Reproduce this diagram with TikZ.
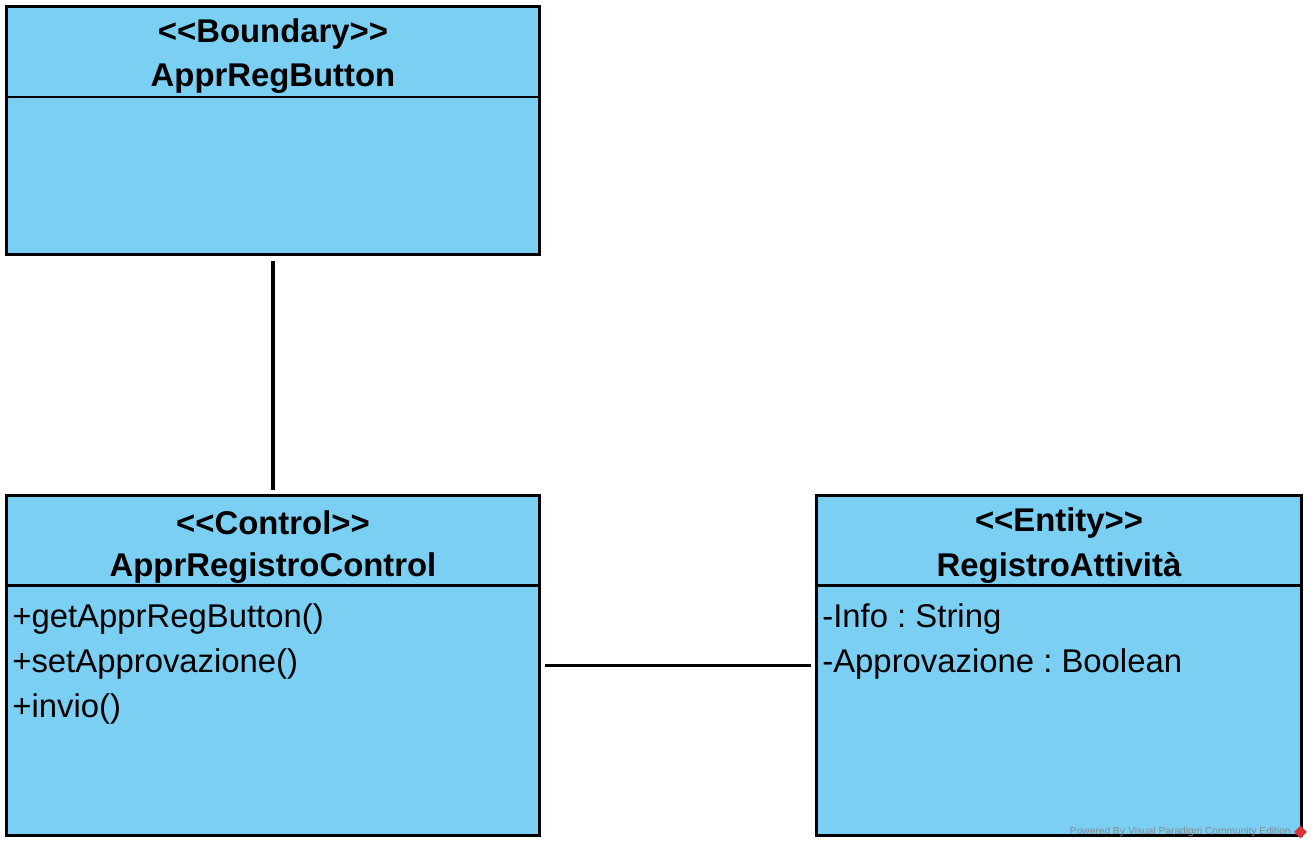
\documentclass[tikz,border=0pt]{standalone}
\usepackage{fontspec}
\setmainfont{Liberation Sans}
\usetikzlibrary{shapes.geometric}
\definecolor{classblue}{HTML}{7ACFF3}
\definecolor{vpgray}{HTML}{8A8A8A}
\definecolor{vpred}{HTML}{D9343A}
\frenchspacing

\begin{document}
\begin{tikzpicture}[x=0.02cm, y=-0.02cm]
\tikzset{classbox/.style={draw, line width=1.7pt, fill=classblue, inner sep=0pt},
  classtitle/.style={font=\fontsize{18.7}{22}\selectfont\bfseries, inner sep=0pt},
  member/.style={font=\fontsize{18.7}{22}\selectfont, anchor=west, inner sep=0pt},
  assoc/.style={line width=1.8pt, shorten <=2.3pt, shorten >=2.3pt}}
\useasboundingbox (0,0) rectangle (1314,849);
% boundary class
\node[classbox, minimum width=10.68cm, minimum height=4.98cm] (bnd) at (273,130.5) {};
\draw[line width=1.7pt] (6,97) -- (540,97);
\node[classtitle] (bndst) at (273,34) {{<}{<}Boundary{>}{>}};
\node[classtitle] (bndnm) at (273,79) {ApprRegButton};
% control class
\node[classbox, minimum width=10.68cm, minimum height=6.82cm] (ctl) at (273,665.5) {};
\draw[line width=1.7pt] (6,585) -- (540,585);
\node[classtitle] (ctlst) at (273,523) {{<}{<}Control{>}{>}};
\node[classtitle] (ctlnm) at (273,568) {ApprRegistroControl};
\node[member] (op1) at (12,619) {+getApprRegButton()};
\node[member] (op2) at (12,664) {+setApprovazione()};
\node[member] (op3) at (12,709) {+invio()};
% entity class
\node[classbox, minimum width=9.72cm, minimum height=6.82cm] (ent) at (1059,665.5) {};
\draw[line width=1.7pt] (816,585) -- (1302,585);
\node[classtitle] (entst) at (1059,523) {{<}{<}Entity{>}{>}};
\node[classtitle] (entnm) at (1059,568) {RegistroAttività};
\node[member] (at1) at (822,619) {-Info : String};
\node[member] (at2) at (822,664) {-Approvazione : Boolean};
% associations
\draw[assoc] (bnd.south) -- (ctl.north);
\draw[assoc] (ctl.east) -- (ent.west);
% watermark
\node[font=\fontsize{5.8}{7}\selectfont, text=vpgray, anchor=east, inner sep=0pt] (wm) at (1291,832) {Powered By\,\,Visual Paradigm Community Edition};
\node[diamond, fill=vpred, minimum size=0.26cm, inner sep=0pt, anchor=west, xshift=1.5pt] (wmlogo) at (wm.east) {};
\end{tikzpicture}
\end{document}
